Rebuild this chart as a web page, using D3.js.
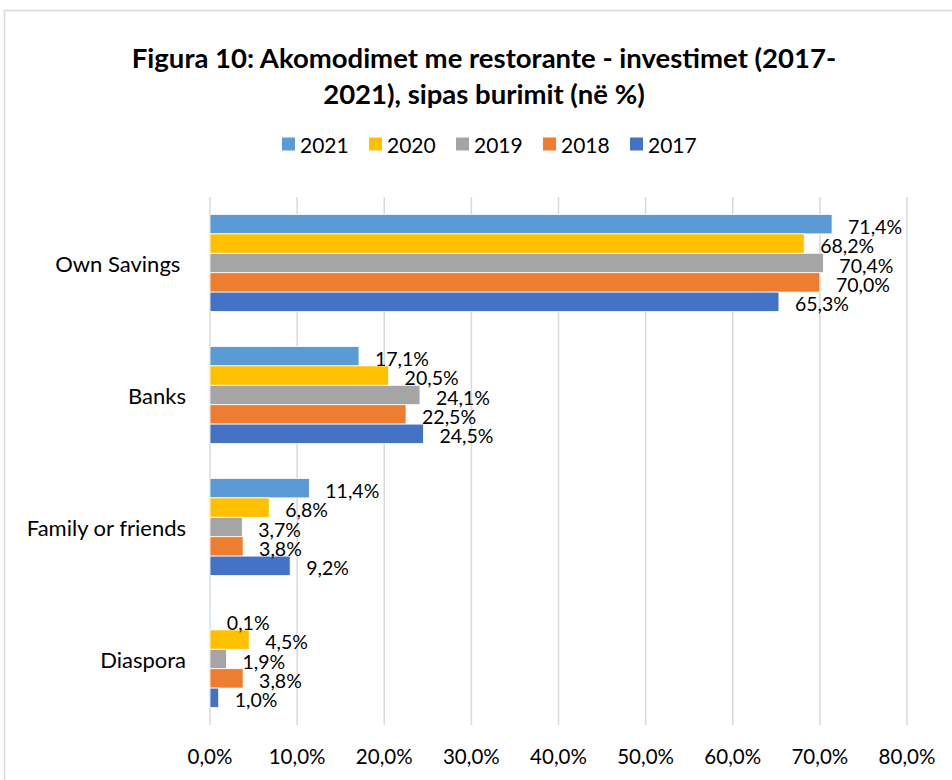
<!DOCTYPE html>
<html lang="sq">
<head>
    <meta charset="UTF-8">
    <title>Figura 10</title>
    <style>
        body {
            margin: 0;
            background: #fff;
            font-family: Lato, 'Open Sans', sans-serif;
        }
        .tick-label, .cat-label, .legend-text, .val-label {
            fill: #000;
        }
        .cat-label {
            white-space: pre;
        }
    </style>
</head>
<body>
    <div id="chart"></div>

    <script src="https://d3js.org/d3.v7.min.js"></script>
    <script>
        // data
        const categories = ['Own Savings ', 'Banks', 'Family or friends', 'Diaspora'];
        const years = ['2021', '2020', '2019', '2018', '2017'];
        const v2021 = [71.4, 17.1, 11.4, 0.1];
        const v2020 = [68.2, 20.5, 6.8, 4.5];
        const v2019 = [70.4, 24.1, 3.7, 1.9];
        const v2018 = [70.0, 22.5, 3.8, 3.8];
        const v2017 = [65.3, 24.5, 9.2, 1.0];
        const xTicks = [0, 10, 20, 30, 40, 50, 60, 70, 80];
        const titleLines = ['Figura 10: Akomodimet me restorante - investimet (2017-', '2021), sipas burimit (në %)'];

        const seriesValues = [v2021, v2020, v2019, v2018, v2017];
        const colors = ['#5b9bd5', '#ffc000', '#a5a5a5', '#ed7d31', '#4472c4'];

        const W = 952, H = 780;
        const plot = {left: 210, right: 907, top: 197, bottom: 725};

        const locale = d3.formatLocale({decimal: ',', thousands: '.', grouping: [3], currency: ['', '']});
        const fmt = v => locale.format('.1f')(v) + '%';

        const svg = d3.select('#chart')
          .append('svg')
            .attr('width', W)
            .attr('height', H);

        // outer chart border
        svg.append('rect')
            .attr('x', 4.5).attr('y', 10.5)
            .attr('width', 970).attr('height', 800)
            .attr('fill', '#fff')
            .attr('stroke', '#d9d9d9')
            .attr('stroke-width', 1.5);

        // title
        svg.selectAll('.title')
            .data(titleLines)
            .join('text')
            .attr('class', 'title')
            .attr('x', 484)
            .attr('y', (d, i) => 57 + i * 36)
            .attr('text-anchor', 'middle')
            .attr('dominant-baseline', 'central')
            .style('font-weight', 'bold')
            .style('font-size', '27.5px')
            .text(d => d);

        // legend
        const legend = svg.selectAll('.legend')
            .data(years)
            .join('g')
            .attr('class', 'legend')
            .attr('transform', (d, i) => `translate(${282 + i * 87},144)`);
        legend.append('rect')
            .attr('x', 0).attr('y', -6.5)
            .attr('width', 13).attr('height', 13)
            .attr('fill', (d, i) => colors[i]);
        legend.append('text')
            .attr('class', 'legend-text')
            .attr('x', 18)
            .attr('dominant-baseline', 'central')
            .style('font-size', '21px')
            .text(d => d);

        const x = d3.scaleLinear()
            .domain([0, 80])
            .range([plot.left, plot.right]);

        const y = d3.scaleBand()
            .domain(categories)
            .range([plot.top, plot.bottom])
            .paddingInner(0.265)
            .paddingOuter(0.1325);

        const ySub = d3.scaleBand()
            .domain(years)
            .range([0, y.bandwidth()]);

        // vertical gridlines
        svg.append('g')
            .selectAll('line')
            .data(xTicks)
            .join('line')
            .attr('x1', d => x(d)).attr('x2', d => x(d))
            .attr('y1', plot.top).attr('y2', plot.bottom)
            .attr('stroke', '#d9d9d9')
            .attr('stroke-width', 1.5);

        // x tick labels
        svg.append('g')
            .selectAll('text')
            .data(xTicks)
            .join('text')
            .attr('class', 'tick-label')
            .attr('x', d => x(d))
            .attr('y', 756)
            .attr('text-anchor', 'middle')
            .attr('dominant-baseline', 'central')
            .style('font-size', '20.5px')
            .text(d => fmt(d));

        // category labels
        svg.append('g')
            .selectAll('text')
            .data(categories)
            .join('text')
            .attr('class', 'cat-label')
            .attr('x', 186)
            .attr('y', d => y(d) + y.bandwidth() / 2)
            .attr('text-anchor', 'end')
            .attr('dominant-baseline', 'central')
            .style('font-size', '22px')
            .text(d => d);

        // bars
        const rows = [];
        categories.forEach((c, ci) => {
            years.forEach((yr, si) => {
                rows.push({cat: c, year: yr, value: seriesValues[si][ci], color: colors[si]});
            });
        });

        svg.append('g')
            .selectAll('rect')
            .data(rows)
            .join('rect')
            .attr('x', x(0))
            .attr('y', d => y(d.cat) + ySub(d.year))
            .attr('width', d => x(d.value) - x(0))
            .attr('height', ySub.bandwidth())
            .attr('fill', d => d.color)
            .attr('stroke', '#fff')
            .attr('stroke-width', 0.8);

        svg.append('g')
            .selectAll('text')
            .data(rows)
            .join('text')
            .attr('class', 'val-label')
            .attr('x', d => x(d.value) + 16)
            .attr('y', d => y(d.cat) + ySub(d.year) + ySub.bandwidth() / 2 + 2)
            .attr('dominant-baseline', 'central')
            .style('font-size', '19.5px')
            .text(d => fmt(d.value));
    </script>
</body>
</html>
